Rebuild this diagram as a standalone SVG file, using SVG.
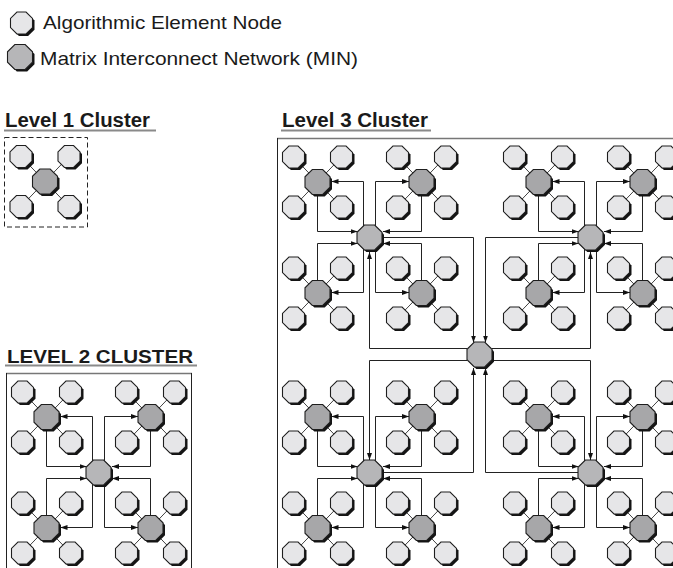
<svg xmlns="http://www.w3.org/2000/svg" width="673" height="568" viewBox="0 0 673 568">
<style>
text{font-family:"Liberation Sans",Arial,Helvetica,sans-serif;fill:#1a1a1a}
.t{font-size:18.5px}
.h{font-size:20px;font-weight:bold}
.ul{stroke:#8a8a8a;stroke-width:2}
.c{fill:none;stroke:#222;stroke-width:1}
.a{marker-end:url(#arr)}
.sp{fill:none;stroke:#444;stroke-width:1}
.shd{fill:#141414}
.fae{fill:#e6e6e8;stroke:#1e1e1e;stroke-width:1.1}
.fmin{fill:#a7a7a9;stroke:#1e1e1e;stroke-width:1.1}
.fhub{fill:#b6b6b8;stroke:#1e1e1e;stroke-width:1.1}
</style>
<defs>
<path id="oA" d="M-4.56-11H4.56L11-4.56V4.56L4.56 11H-4.56L-11 4.56V-4.56Z"/>
<path id="oM" d="M-5.18-12.5H5.18L12.5-5.18V5.18L5.18 12.5H-5.18L-12.5 5.18V-5.18Z"/>
<g id="ae"><use href="#oA" class="shd" transform="translate(2 2.1)"/><use href="#oA" class="fae"/></g>
<g id="mn"><use href="#oM" class="shd" transform="translate(2 2.1)"/><use href="#oM" class="fmin"/></g>
<g id="hb"><use href="#oM" class="shd" transform="translate(2 2.1)"/><use href="#oM" class="fhub"/></g>
<marker id="arr" viewBox="0 0 7 5" refX="7" refY="2.5" markerWidth="7" markerHeight="5" markerUnits="userSpaceOnUse" orient="auto"><path d="M0 0L7 2.5L0 5Z" fill="#111"/></marker>
</defs>

<!-- legend -->
<g id="legend-ae"><use href="#ae" x="21.5" y="23"/><text class="t" x="43" y="28.5" textLength="239" lengthAdjust="spacingAndGlyphs">Algorithmic Element Node</text></g>
<g id="legend-min"><use href="#hb" x="20" y="57"/><text class="t" x="40" y="65" textLength="318" lengthAdjust="spacingAndGlyphs">Matrix Interconnect Network (MIN)</text></g>

<!-- titles and frames -->
<text class="h" x="5" y="126.5" textLength="145" lengthAdjust="spacingAndGlyphs">Level 1 Cluster</text>
<line class="ul" x1="4" y1="130.5" x2="156" y2="130.5"/>
<text class="h" x="282" y="126.5" textLength="146" lengthAdjust="spacingAndGlyphs">Level 3 Cluster</text>
<line class="ul" x1="281" y1="130.5" x2="431" y2="130.5"/>
<text class="h" x="7" y="362.5" style="font-size:19px" textLength="186" lengthAdjust="spacingAndGlyphs">LEVEL 2 CLUSTER</text>
<line class="ul" x1="5" y1="365.5" x2="197" y2="365.5"/>
<rect x="4.5" y="137.5" width="83" height="89.5" fill="none" stroke="#222" stroke-dasharray="5 3"/>
<g fill="none">
<line x1="6" y1="373.5" x2="192" y2="373.5" stroke="#777" stroke-width="1.5"/>
<line x1="6.5" y1="373" x2="6.5" y2="568" stroke="#222"/>
<line x1="191.5" y1="373" x2="191.5" y2="568" stroke="#222"/>
<line x1="277" y1="138.5" x2="673" y2="138.5" stroke="#777" stroke-width="1.5"/>
<line x1="277.5" y1="138" x2="277.5" y2="568" stroke="#222"/>
</g>

<g id="connectors">
<!-- spokes -->
<path class="sp" d="M21 156.5L69 206.5M69 156.5L21 206.5
M22.5 392L70.5 442M70.5 392L22.5 442M126.5 392L174.5 442M174.5 392L126.5 442
M22.5 503L70.5 553M70.5 503L22.5 553M126.5 503L174.5 553M174.5 503L126.5 553
M293.5 157L341.5 207M341.5 157L293.5 207M397.5 157L445.5 207M445.5 157L397.5 207
M293.5 268L341.5 318M341.5 268L293.5 318M397.5 268L445.5 318M445.5 268L397.5 318
M514.5 157L562.5 207M562.5 157L514.5 207M618.5 157L666.5 207M666.5 157L618.5 207
M514.5 268L562.5 318M562.5 268L514.5 318M618.5 268L666.5 318M666.5 268L618.5 318
M293.5 392L341.5 442M341.5 392L293.5 442M397.5 392L445.5 442M445.5 392L397.5 442
M293.5 503L341.5 553M341.5 503L293.5 553M397.5 503L445.5 553M445.5 503L397.5 553
M514.5 392L562.5 442M562.5 392L514.5 442M618.5 392L666.5 442M666.5 392L618.5 442
M514.5 503L562.5 553M562.5 503L514.5 553M618.5 503L666.5 553M666.5 503L618.5 553"/>
<!-- level 2 standalone -->
<path class="c a" d="M92.5 462.5V416.5H60.5"/>
<path class="c a" d="M46.5 428V466.5H86.5"/>
<path class="c a" d="M104.5 462.5V416.5H138"/>
<path class="c a" d="M150.5 428V466.5H112"/>
<path class="c a" d="M46.5 517V478.5H86.5"/>
<path class="c a" d="M92.5 482.5V527.5H60.5"/>
<path class="c a" d="M150.5 517V478.5H112"/>
<path class="c a" d="M104.5 482.5V527.5H138"/>
<!-- L3 H1 -->
<path class="c a" d="M363.5 227.5V181.5H331.5"/>
<path class="c a" d="M317.5 193V231.5H357.5"/>
<path class="c a" d="M375.5 227.5V181.5H409"/>
<path class="c a" d="M421.5 193V231.5H383"/>
<path class="c a" d="M317.5 282V243.5H357.5"/>
<path class="c a" d="M363.5 247.5V292.5H331.5"/>
<path class="c a" d="M421.5 282V243.5H383"/>
<path class="c a" d="M375.5 247.5V292.5H409"/>
<!-- L3 H2 -->
<path class="c a" d="M584.5 227.5V181.5H552.5"/>
<path class="c a" d="M538.5 193V231.5H578.5"/>
<path class="c a" d="M596.5 227.5V181.5H630"/>
<path class="c a" d="M642.5 193V231.5H604"/>
<path class="c a" d="M538.5 282V243.5H578.5"/>
<path class="c a" d="M584.5 247.5V292.5H552.5"/>
<path class="c a" d="M642.5 282V243.5H604"/>
<path class="c a" d="M596.5 247.5V292.5H630"/>
<!-- L3 H3 -->
<path class="c a" d="M363.5 462.5V416.5H331.5"/>
<path class="c a" d="M317.5 428V466.5H357.5"/>
<path class="c a" d="M375.5 462.5V416.5H409"/>
<path class="c a" d="M421.5 428V466.5H383"/>
<path class="c a" d="M317.5 517V478.5H357.5"/>
<path class="c a" d="M363.5 482.5V527.5H331.5"/>
<path class="c a" d="M421.5 517V478.5H383"/>
<path class="c a" d="M375.5 482.5V527.5H409"/>
<!-- L3 H4 -->
<path class="c a" d="M584.5 462.5V416.5H552.5"/>
<path class="c a" d="M538.5 428V466.5H578.5"/>
<path class="c a" d="M596.5 462.5V416.5H630"/>
<path class="c a" d="M642.5 428V466.5H604"/>
<path class="c a" d="M538.5 517V478.5H578.5"/>
<path class="c a" d="M584.5 482.5V527.5H552.5"/>
<path class="c a" d="M642.5 517V478.5H604"/>
<path class="c a" d="M596.5 482.5V527.5H630"/>
<!-- L3 top level -->
<path class="c a" d="M382 237.5H473.5V342.5"/>
<path class="c a" d="M578 237.5H485.5V342.5"/>
<path class="c a" d="M467 348.5H369.5V252"/>
<path class="c a" d="M492 348.5H590.5V252"/>
<path class="c a" d="M467 360.5H369.5V460"/>
<path class="c a" d="M492 360.5H590.5V460"/>
<path class="c a" d="M382 472.5H473.5V368"/>
<path class="c a" d="M578 472.5H485.5V368"/>
</g>

<!-- Level 1 -->
<g id="l1-min"><use href="#mn" x="45" y="181.5"/></g>
<g id="l1-ae1"><use href="#ae" x="21" y="156.5"/></g>
<g id="l1-ae2"><use href="#ae" x="69" y="156.5"/></g>
<g id="l1-ae3"><use href="#ae" x="21" y="206.5"/></g>
<g id="l1-ae4"><use href="#ae" x="69" y="206.5"/></g>

<!-- Level 2 -->
<g id="l2-hub"><use href="#hb" x="98.5" y="472.5"/></g>
<g id="l2-tl-min"><use href="#mn" x="46.5" y="417"/></g>
<g id="l2-tr-min"><use href="#mn" x="150.5" y="417"/></g>
<g id="l2-bl-min"><use href="#mn" x="46.5" y="528"/></g>
<g id="l2-br-min"><use href="#mn" x="150.5" y="528"/></g>
<g id="l2-tl-a1"><use href="#ae" x="22.5" y="392"/></g>
<g id="l2-tl-a2"><use href="#ae" x="70.5" y="392"/></g>
<g id="l2-tl-a3"><use href="#ae" x="22.5" y="442"/></g>
<g id="l2-tl-a4"><use href="#ae" x="70.5" y="442"/></g>
<g id="l2-tr-a1"><use href="#ae" x="126.5" y="392"/></g>
<g id="l2-tr-a2"><use href="#ae" x="174.5" y="392"/></g>
<g id="l2-tr-a3"><use href="#ae" x="126.5" y="442"/></g>
<g id="l2-tr-a4"><use href="#ae" x="174.5" y="442"/></g>
<g id="l2-bl-a1"><use href="#ae" x="22.5" y="503"/></g>
<g id="l2-bl-a2"><use href="#ae" x="70.5" y="503"/></g>
<g id="l2-bl-a3"><use href="#ae" x="22.5" y="553"/></g>
<g id="l2-bl-a4"><use href="#ae" x="70.5" y="553"/></g>
<g id="l2-br-a1"><use href="#ae" x="126.5" y="503"/></g>
<g id="l2-br-a2"><use href="#ae" x="174.5" y="503"/></g>
<g id="l2-br-a3"><use href="#ae" x="126.5" y="553"/></g>
<g id="l2-br-a4"><use href="#ae" x="174.5" y="553"/></g>

<!-- Level 3 -->
<g id="l3-top"><use href="#hb" x="479.5" y="354.5"/></g>
<g id="l3-h1"><use href="#hb" x="369.5" y="237.5"/></g>
<g id="l3-h2"><use href="#hb" x="590.5" y="237.5"/></g>
<g id="l3-h3"><use href="#hb" x="369.5" y="472.5"/></g>
<g id="l3-h4"><use href="#hb" x="590.5" y="472.5"/></g>
<g id="l3-h1-tl"><use href="#mn" x="317.5" y="182"/></g>
<g id="l3-h1-tr"><use href="#mn" x="421.5" y="182"/></g>
<g id="l3-h1-bl"><use href="#mn" x="317.5" y="293"/></g>
<g id="l3-h1-br"><use href="#mn" x="421.5" y="293"/></g>
<g id="l3-h2-tl"><use href="#mn" x="538.5" y="182"/></g>
<g id="l3-h2-tr"><use href="#mn" x="642.5" y="182"/></g>
<g id="l3-h2-bl"><use href="#mn" x="538.5" y="293"/></g>
<g id="l3-h2-br"><use href="#mn" x="642.5" y="293"/></g>
<g id="l3-h3-tl"><use href="#mn" x="317.5" y="417"/></g>
<g id="l3-h3-tr"><use href="#mn" x="421.5" y="417"/></g>
<g id="l3-h3-bl"><use href="#mn" x="317.5" y="528"/></g>
<g id="l3-h3-br"><use href="#mn" x="421.5" y="528"/></g>
<g id="l3-h4-tl"><use href="#mn" x="538.5" y="417"/></g>
<g id="l3-h4-tr"><use href="#mn" x="642.5" y="417"/></g>
<g id="l3-h4-bl"><use href="#mn" x="538.5" y="528"/></g>
<g id="l3-h4-br"><use href="#mn" x="642.5" y="528"/></g>

<g id="l3-h1-tl-a1"><use href="#ae" x="293.5" y="157"/></g>
<g id="l3-h1-tl-a2"><use href="#ae" x="341.5" y="157"/></g>
<g id="l3-h1-tl-a3"><use href="#ae" x="293.5" y="207"/></g>
<g id="l3-h1-tl-a4"><use href="#ae" x="341.5" y="207"/></g>
<g id="l3-h1-tr-a1"><use href="#ae" x="397.5" y="157"/></g>
<g id="l3-h1-tr-a2"><use href="#ae" x="445.5" y="157"/></g>
<g id="l3-h1-tr-a3"><use href="#ae" x="397.5" y="207"/></g>
<g id="l3-h1-tr-a4"><use href="#ae" x="445.5" y="207"/></g>
<g id="l3-h1-bl-a1"><use href="#ae" x="293.5" y="268"/></g>
<g id="l3-h1-bl-a2"><use href="#ae" x="341.5" y="268"/></g>
<g id="l3-h1-bl-a3"><use href="#ae" x="293.5" y="318"/></g>
<g id="l3-h1-bl-a4"><use href="#ae" x="341.5" y="318"/></g>
<g id="l3-h1-br-a1"><use href="#ae" x="397.5" y="268"/></g>
<g id="l3-h1-br-a2"><use href="#ae" x="445.5" y="268"/></g>
<g id="l3-h1-br-a3"><use href="#ae" x="397.5" y="318"/></g>
<g id="l3-h1-br-a4"><use href="#ae" x="445.5" y="318"/></g>

<g id="l3-h2-tl-a1"><use href="#ae" x="514.5" y="157"/></g>
<g id="l3-h2-tl-a2"><use href="#ae" x="562.5" y="157"/></g>
<g id="l3-h2-tl-a3"><use href="#ae" x="514.5" y="207"/></g>
<g id="l3-h2-tl-a4"><use href="#ae" x="562.5" y="207"/></g>
<g id="l3-h2-tr-a1"><use href="#ae" x="618.5" y="157"/></g>
<g id="l3-h2-tr-a2"><use href="#ae" x="666.5" y="157"/></g>
<g id="l3-h2-tr-a3"><use href="#ae" x="618.5" y="207"/></g>
<g id="l3-h2-tr-a4"><use href="#ae" x="666.5" y="207"/></g>
<g id="l3-h2-bl-a1"><use href="#ae" x="514.5" y="268"/></g>
<g id="l3-h2-bl-a2"><use href="#ae" x="562.5" y="268"/></g>
<g id="l3-h2-bl-a3"><use href="#ae" x="514.5" y="318"/></g>
<g id="l3-h2-bl-a4"><use href="#ae" x="562.5" y="318"/></g>
<g id="l3-h2-br-a1"><use href="#ae" x="618.5" y="268"/></g>
<g id="l3-h2-br-a2"><use href="#ae" x="666.5" y="268"/></g>
<g id="l3-h2-br-a3"><use href="#ae" x="618.5" y="318"/></g>
<g id="l3-h2-br-a4"><use href="#ae" x="666.5" y="318"/></g>

<g id="l3-h3-tl-a1"><use href="#ae" x="293.5" y="392"/></g>
<g id="l3-h3-tl-a2"><use href="#ae" x="341.5" y="392"/></g>
<g id="l3-h3-tl-a3"><use href="#ae" x="293.5" y="442"/></g>
<g id="l3-h3-tl-a4"><use href="#ae" x="341.5" y="442"/></g>
<g id="l3-h3-tr-a1"><use href="#ae" x="397.5" y="392"/></g>
<g id="l3-h3-tr-a2"><use href="#ae" x="445.5" y="392"/></g>
<g id="l3-h3-tr-a3"><use href="#ae" x="397.5" y="442"/></g>
<g id="l3-h3-tr-a4"><use href="#ae" x="445.5" y="442"/></g>
<g id="l3-h3-bl-a1"><use href="#ae" x="293.5" y="503"/></g>
<g id="l3-h3-bl-a2"><use href="#ae" x="341.5" y="503"/></g>
<g id="l3-h3-bl-a3"><use href="#ae" x="293.5" y="553"/></g>
<g id="l3-h3-bl-a4"><use href="#ae" x="341.5" y="553"/></g>
<g id="l3-h3-br-a1"><use href="#ae" x="397.5" y="503"/></g>
<g id="l3-h3-br-a2"><use href="#ae" x="445.5" y="503"/></g>
<g id="l3-h3-br-a3"><use href="#ae" x="397.5" y="553"/></g>
<g id="l3-h3-br-a4"><use href="#ae" x="445.5" y="553"/></g>

<g id="l3-h4-tl-a1"><use href="#ae" x="514.5" y="392"/></g>
<g id="l3-h4-tl-a2"><use href="#ae" x="562.5" y="392"/></g>
<g id="l3-h4-tl-a3"><use href="#ae" x="514.5" y="442"/></g>
<g id="l3-h4-tl-a4"><use href="#ae" x="562.5" y="442"/></g>
<g id="l3-h4-tr-a1"><use href="#ae" x="618.5" y="392"/></g>
<g id="l3-h4-tr-a2"><use href="#ae" x="666.5" y="392"/></g>
<g id="l3-h4-tr-a3"><use href="#ae" x="618.5" y="442"/></g>
<g id="l3-h4-tr-a4"><use href="#ae" x="666.5" y="442"/></g>
<g id="l3-h4-bl-a1"><use href="#ae" x="514.5" y="503"/></g>
<g id="l3-h4-bl-a2"><use href="#ae" x="562.5" y="503"/></g>
<g id="l3-h4-bl-a3"><use href="#ae" x="514.5" y="553"/></g>
<g id="l3-h4-bl-a4"><use href="#ae" x="562.5" y="553"/></g>
<g id="l3-h4-br-a1"><use href="#ae" x="618.5" y="503"/></g>
<g id="l3-h4-br-a2"><use href="#ae" x="666.5" y="503"/></g>
<g id="l3-h4-br-a3"><use href="#ae" x="618.5" y="553"/></g>
<g id="l3-h4-br-a4"><use href="#ae" x="666.5" y="553"/></g>
</svg>
